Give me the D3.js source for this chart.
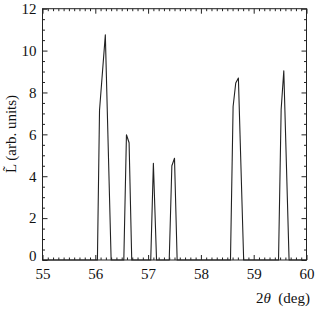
<!DOCTYPE html>
<html><head><meta charset="utf-8">
<script src="https://cdn.jsdelivr.net/npm/d3@7/dist/d3.min.js"></script>
<style>
body{margin:0;background:#fff;}
svg{display:block;}
text{font-family:"Liberation Serif","Times New Roman",serif;fill:#111;}
</style></head>
<body>
<script>
// ---- data ----
const twoTheta = [55, 56.04, 56.08, 56.19, 56.30, 56.54, 56.59, 56.64, 56.69, 57.05, 57.10, 57.16,
  57.40, 57.45, 57.50, 57.55, 58.56, 58.61, 58.66, 58.71, 58.81, 59.47, 59.52, 59.57, 59.67, 60];
const intensity = [0, 0, 7.15, 10.75, 0, 0, 5.98, 5.6, 0, 0, 4.62, 0,
  0, 4.5, 4.86, 0, 0, 7.33, 8.45, 8.69, 0, 0, 7.2, 9.04, 0, 0];
const xTicks = [55, 56, 57, 58, 59, 60];
const yTicks = [0, 2, 4, 6, 8, 10, 12];
const xTitle = ["2", "\u03B8", "  (deg)"];
const yTitle = "L\u0303 (arb. units)";

const W = 317, H = 312;
const svg = d3.select("body").append("svg").attr("width", W).attr("height", H);

const x = d3.scaleLinear().domain([55, 60]).range([42.5, 306.5]);
const y = d3.scaleLinear().domain([0, 12]).range([260, 8.7]);

const stroke = "#222";
const fs = 15;

// minor ticks
const xMinor = d3.range(550, 601).map(d => d / 10).filter(d => !xTicks.includes(d));
const yMinor = d3.range(0, 25).map(d => d / 2).filter(d => !yTicks.includes(d));

function styleAxis(g) {
  g.select(".domain").remove();
  g.selectAll(".tick line").attr("stroke", stroke).attr("stroke-width", 1);
  g.selectAll("text").style("font-size", fs + "px").style("font-family", '"Liberation Serif",serif').attr("fill", "#111");
}

// bottom
svg.append("g").attr("transform", `translate(0,${y(0)})`)
  .call(d3.axisBottom(x).tickValues(xTicks).tickFormat(d3.format("d")).tickSizeInner(-5).tickSizeOuter(0).tickPadding(8))
  .call(styleAxis);
svg.append("g").attr("transform", `translate(0,${y(0)})`)
  .call(d3.axisBottom(x).tickValues(xMinor).tickFormat("").tickSizeInner(-2.5).tickSizeOuter(0))
  .call(styleAxis);
// top
svg.append("g").attr("transform", `translate(0,${y(12)})`)
  .call(d3.axisTop(x).tickValues(xTicks).tickFormat("").tickSizeInner(-5).tickSizeOuter(0))
  .call(styleAxis);
svg.append("g").attr("transform", `translate(0,${y(12)})`)
  .call(d3.axisTop(x).tickValues(xMinor).tickFormat("").tickSizeInner(-2.5).tickSizeOuter(0))
  .call(styleAxis);
// left
const gl = svg.append("g").attr("transform", `translate(${x(55)},0)`)
  .call(d3.axisLeft(y).tickValues(yTicks).tickFormat(d3.format("d")).tickSizeInner(-5).tickSizeOuter(0).tickPadding(6))
  .call(styleAxis);
gl.selectAll(".tick").filter(d => d === 0).select("text").attr("y", -4);
svg.append("g").attr("transform", `translate(${x(55)},0)`)
  .call(d3.axisLeft(y).tickValues(yMinor).tickFormat("").tickSizeInner(-2.5).tickSizeOuter(0))
  .call(styleAxis);
// right
svg.append("g").attr("transform", `translate(${x(60)},0)`)
  .call(d3.axisRight(y).tickValues(yTicks).tickFormat("").tickSizeInner(-5).tickSizeOuter(0))
  .call(styleAxis);
svg.append("g").attr("transform", `translate(${x(60)},0)`)
  .call(d3.axisRight(y).tickValues(yMinor).tickFormat("").tickSizeInner(-2.5).tickSizeOuter(0))
  .call(styleAxis);

// frame
svg.append("rect").attr("x", x(55)).attr("y", y(12))
  .attr("width", x(60) - x(55)).attr("height", y(0) - y(12))
  .attr("fill", "none").attr("stroke", stroke).attr("stroke-width", 1);

// data line
const pts = twoTheta.map((d, i) => [d, intensity[i]]);
svg.append("path").datum(pts)
  .attr("d", d3.line().x(d => x(d[0])).y(d => y(d[1])))
  .attr("fill", "none").attr("stroke", stroke).attr("stroke-width", 1.1).attr("stroke-linejoin", "round");

// x title
const xt = svg.append("text").attr("x", 310).attr("y", 303).attr("text-anchor", "end")
  .style("font-size", fs + "px").attr("xml:space", "preserve").style("white-space", "pre");
xt.append("tspan").text(xTitle[0]);
xt.append("tspan").style("font-style", "italic").text(xTitle[1]);
xt.append("tspan").text(xTitle[2]);

// y title
svg.append("text").attr("transform", "translate(16,134) rotate(-90)")
  .attr("text-anchor", "middle").style("font-size", fs + "px").text(yTitle);
</script>
</body></html>
